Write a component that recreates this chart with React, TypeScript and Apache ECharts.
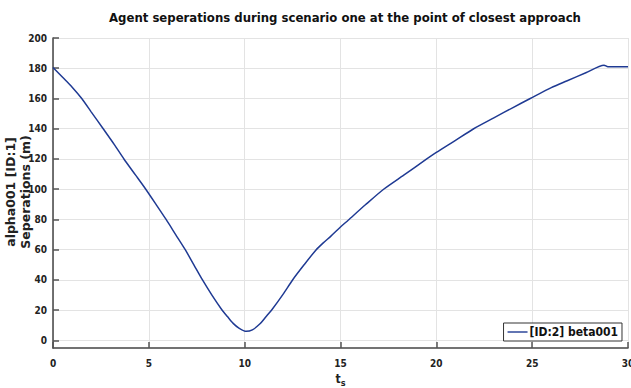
import React, { useEffect, useRef } from "react";
import * as echarts from "echarts";

const titleText = "Agent seperations during scenario one at the point of closest approach";
const seriesName = "[ID:2] beta001";
const yAxisTitle = "alpha001 [ID:1]\nSeperations (m)";
const yTickValues = [0, 20, 40, 60, 80, 100, 120, 140, 160, 180, 200];
const timeValues = [
  0, 0.5, 1, 1.5, 2, 2.6, 3.2, 3.7, 4.3, 4.84, 5.4, 5.9, 6.4, 6.9, 7.35, 7.8, 8.3, 8.8, 9.1, 9.4, 9.7,
  10.08, 10.4, 10.8, 11.1, 11.4, 12.0, 12.5, 13.1, 13.7, 14.1, 14.5, 15.0, 15.4, 16.3, 17.25, 18.3, 19.5,
  20.0, 21.0, 21.95, 23.0, 24.0, 24.9, 26.0, 26.8, 27.8, 28.75, 28.95, 30,
];
const separationValues = [
  180.5, 174, 167.5, 160, 151, 140.3, 129.5, 120, 109.5, 100, 89.5, 80, 70, 60, 50, 40, 29.8, 20.5, 15.8, 11.3, 8.2,
  6, 7, 11, 15.5, 20, 30.5, 40, 50, 59.5, 64.5, 69, 75, 79.5, 89.7, 100, 109.3, 120,
  124.3, 132.3, 140, 147.2, 154, 160, 167.2, 171.6, 177, 182, 181, 181,
];

const FONT = "DejaVu Sans Condensed";

export default function App() {
  const ref = useRef<HTMLDivElement>(null);
  useEffect(() => {
    if (!ref.current) return;
    const chart = echarts.init(ref.current, null, { renderer: "svg" });
    const data = timeValues.map((t, i) => [t, separationValues[i]]);
    chart.setOption({
      animation: false,
      backgroundColor: "#ffffff",
      title: {
        text: titleText,
        left: 340,
        textAlign: "center",
        top: 6,
        textStyle: { fontFamily: FONT, fontWeight: "bold", fontSize: 13, color: "#111" },
      },
      graphic: [
        {
          type: "text",
          x: 18,
          y: 192,
          rotation: Math.PI / 2,
          style: {
            text: yAxisTitle,
            align: "center",
            verticalAlign: "middle",
            fontFamily: "DejaVu Sans",
            fontWeight: "bold",
            fontSize: 12.5,
            lineHeight: 15,
            fill: "#222",
          },
        },
      ],
      grid: { left: 53, right: 3, top: 38, bottom: 40, containLabel: false, outerBoundsMode: "none" },
      legend: {
        right: 9,
        bottom: 47,
        orient: "vertical",
        backgroundColor: "#ffffff",
        borderColor: "#333",
        borderWidth: 1,
        borderRadius: 0,
        padding: [3, 4, 3, 4],
        itemWidth: 20,
        itemHeight: 10,
        itemGap: 2,
        data: [{ name: seriesName, icon: "path://M0,4.3 L20,4.3 L20,5.7 L0,5.7 Z" }],
        textStyle: { fontFamily: FONT, fontWeight: "bold", fontSize: 12, color: "#111", padding: [0, 0, 0, -3] },
      },
      xAxis: {
        type: "value",
        min: 0,
        max: 30,
        interval: 5,
        name: "{t|t}{s|s}",
        nameLocation: "middle",
        nameGap: 19,
        nameTextStyle: {
          rich: {
            t: { fontFamily: FONT, fontWeight: "bold", fontSize: 12, color: "#222" },
            s: { fontFamily: FONT, fontWeight: "bold", fontSize: 9, color: "#222", verticalAlign: "bottom", padding: [9, 0, 0, 0] },
          },
        },
        axisLine: { show: true, onZero: false, lineStyle: { color: "#444", width: 1.5 } },
        axisTick: { show: true, inside: true, length: 6, lineStyle: { color: "#555", width: 1.5 } },
        axisLabel: { fontFamily: FONT, fontWeight: "bold", fontSize: 10, color: "#222", margin: 10 },
        splitLine: { show: true, lineStyle: { color: "#e3e3e3", width: 1 } },
      },
      yAxis: {
        type: "value",
        min: -5,
        max: 200,
        axisLine: { show: true, onZero: false, lineStyle: { color: "#444", width: 1.5 } },
        axisTick: { show: true, inside: true, length: 6, customValues: yTickValues, lineStyle: { color: "#555", width: 1.5 } },
        axisLabel: { fontFamily: FONT, fontWeight: "bold", fontSize: 10, color: "#222", margin: 6, customValues: yTickValues },
        splitLine: { show: true, lineStyle: { color: "#e3e3e3", width: 1 } },
      },
      series: [
        {
          name: seriesName,
          type: "line",
          data,
          smooth: 0.25,
          symbol: "none",
          lineStyle: { color: "#1f3a93", width: 1.5 },
          itemStyle: { color: "#1f3a93" },
        },
      ],
    });
    return () => chart.dispose();
  }, []);
  return <div ref={ref} style={{ width: 631, height: 388, position: "absolute", left: 0, top: 0 }} />;
}
